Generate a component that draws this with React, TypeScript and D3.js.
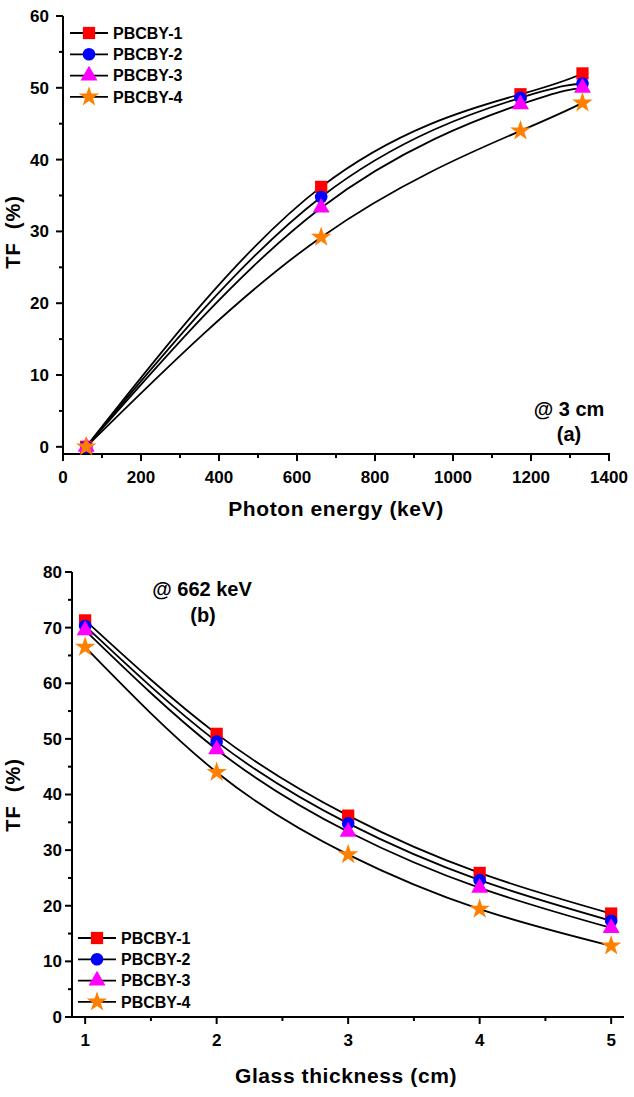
import { useEffect, useRef } from "react";
import * as d3 from "d3";

const seriesNames = ["PBCBY-1", "PBCBY-2", "PBCBY-3", "PBCBY-4"];
const seriesColors = ["#ff0000", "#0000ff", "#ff00ff", "#ff8000"];

// (a) TF vs photon energy, 3 cm glass
const photonEnergy = [59.5, 662, 1173, 1332];
const tfEnergy1 = [0, 36.2, 49.1, 52.0];
const tfEnergy2 = [0, 34.8, 48.6, 50.6];
const tfEnergy3 = [0, 33.3, 47.7, 50.0];
const tfEnergy4 = [0, 29.2, 44.0, 47.9];

// (b) TF vs glass thickness, 662 keV
const thickness = [1, 2, 3, 4, 5];
const tfThick1 = [71.3, 50.9, 36.2, 25.9, 18.6];
const tfThick2 = [70.3, 49.5, 34.8, 24.6, 17.3];
const tfThick3 = [69.5, 48.1, 33.3, 23.2, 16.0];
const tfThick4 = [66.5, 44.0, 29.2, 19.4, 12.8];

const energyTicks = [0, 200, 400, 600, 800, 1000, 1200, 1400];
const energyMinor = [100, 300, 500, 700, 900, 1100, 1300];
const tfTicksA = [0, 10, 20, 30, 40, 50, 60];
const tfMinorA = [5, 15, 25, 35, 45, 55];
const thickTicks = [1, 2, 3, 4, 5];
const thickMinor = [1.5, 2.5, 3.5, 4.5];
const tfTicksB = [0, 10, 20, 30, 40, 50, 60, 70, 80];
const tfMinorB = [5, 15, 25, 35, 45, 55, 65, 75];

const symbols = [d3.symbolSquare, d3.symbolCircle, d3.symbolTriangle, d3.symbolStar];
const symbolSizes = [150, 125, 125, 130];
const FONT = "'Liberation Sans', Arial, sans-serif";

type Sel = d3.Selection<SVGGElement, unknown, null, undefined>;

function drawPanel(
  g: Sel,
  o: {
    xs: number[];
    ys: number[][];
    x: d3.ScaleLinear<number, number>;
    y: d3.ScaleLinear<number, number>;
    xTicks: number[];
    xMinor: number[];
    yTicks: number[];
    yMinor: number[];
    yLabelGap: number;
    xTitle: string;
    xTitlePos: [number, number];
    yTitlePos: [number, number];
    legendX: number;
    legendY: number;
    notes: { text: string; x: number; y: number }[];
  }
) {
  const { x, y } = o;
  const [x0, x1] = x.range();
  const [yb] = y.range();

  // axes
  const axis = g.append("g").attr("stroke", "#000").attr("stroke-width", 2).attr("fill", "none");
  axis.append("line").attr("x1", x0).attr("x2", x1 + 1).attr("y1", yb).attr("y2", yb);
  axis.append("line").attr("x1", x0).attr("x2", x0).attr("y1", yb + 1).attr("y2", y(o.yTicks[o.yTicks.length - 1]));
  o.xTicks.forEach(t => axis.append("line").attr("x1", x(t)).attr("x2", x(t)).attr("y1", yb).attr("y2", yb + 7));
  o.xMinor.forEach(t => axis.append("line").attr("x1", x(t)).attr("x2", x(t)).attr("y1", yb).attr("y2", yb + 4));
  o.yTicks.forEach(t => axis.append("line").attr("x1", x0 - 7).attr("x2", x0).attr("y1", y(t)).attr("y2", y(t)));
  o.yMinor.forEach(t => axis.append("line").attr("x1", x0 - 4).attr("x2", x0).attr("y1", y(t)).attr("y2", y(t)));

  const txt = g.append("g").attr("font-family", FONT).attr("font-weight", "bold").attr("fill", "#000");
  o.xTicks.forEach(t =>
    txt.append("text").attr("x", x(t)).attr("y", yb + 29).attr("text-anchor", "middle").attr("font-size", 17).text(t)
  );
  o.yTicks.forEach(t =>
    txt.append("text").attr("x", x0 - o.yLabelGap).attr("y", y(t)).attr("dy", "0.35em").attr("text-anchor", "end").attr("font-size", 17).text(t)
  );
  txt.append("text")
    .attr("x", o.xTitlePos[0]).attr("y", o.xTitlePos[1])
    .attr("text-anchor", "middle").attr("font-size", 21)
    .attr("letter-spacing", 0.6)
    .text(o.xTitle);
  txt.append("text")
    .attr("transform", `translate(${o.yTitlePos[0]},${o.yTitlePos[1]}) rotate(-90)`)
    .attr("text-anchor", "middle").attr("font-size", 20)
    .attr("letter-spacing", 1)
    .attr("xml:space", "preserve")
    .text("TF  (%)");
  o.notes.forEach(n =>
    txt.append("text").attr("x", n.x).attr("y", n.y).attr("text-anchor", "middle").attr("font-size", 20).text(n.text)
  );

  // curves
  const line = d3.line<number>()
    .x((_, i) => x(o.xs[i]))
    .y(d => y(d))
    .curve(d3.curveNatural);
  o.ys.forEach(s =>
    g.append("path").datum(s).attr("fill", "none").attr("stroke", "#000").attr("stroke-width", 1.8).attr("d", line)
  );

  // markers
  o.ys.forEach((s, k) => {
    const sym = d3.symbol().type(symbols[k]).size(symbolSizes[k]);
    s.forEach((v, i) =>
      g.append("path")
        .attr("transform", `translate(${x(o.xs[i])},${y(v)})`)
        .attr("fill", seriesColors[k])
        .attr("d", sym()!)
    );
  });

  // legend
  const lg = g.append("g").attr("transform", `translate(${o.legendX},${o.legendY})`);
  seriesNames.forEach((name, k) => {
    const ry = k * 21.3;
    lg.append("line").attr("x1", 0).attr("x2", 38).attr("y1", ry).attr("y2", ry).attr("stroke", "#000").attr("stroke-width", 1.8);
    lg.append("path")
      .attr("transform", `translate(19,${ry})`)
      .attr("fill", seriesColors[k])
      .attr("d", d3.symbol().type(symbols[k]).size(symbolSizes[k])()!);
    lg.append("text")
      .attr("x", 43).attr("y", ry).attr("dy", "0.35em")
      .attr("font-family", FONT).attr("font-weight", "bold").attr("font-size", 16)
      .text(name);
  });
}

export default function App() {
  const svgRef = useRef<SVGSVGElement>(null);

  useEffect(() => {
    if (!svgRef.current) return;
    const svg = d3.select(svgRef.current);
    svg.selectAll("*").remove();

    // Panel (a)
    const xA = d3.scaleLinear().domain([0, 1400]).range([63, 609]);
    const yA = d3.scaleLinear().domain([-1, 60]).range([454, 16]);
    drawPanel(svg.append("g"), {
      xs: photonEnergy,
      ys: [tfEnergy1, tfEnergy2, tfEnergy3, tfEnergy4],
      x: xA,
      y: yA,
      xTicks: energyTicks,
      xMinor: energyMinor,
      yTicks: tfTicksA,
      yMinor: tfMinorA,
      yLabelGap: 14,
      xTitle: "Photon energy (keV)",
      xTitlePos: [336, 516],
      yTitlePos: [20, 232],
      legendX: 70,
      legendY: 33,
      notes: [
        { text: "@ 3 cm", x: 569, y: 416 },
        { text: "(a)", x: 569, y: 441 }
      ]
    });

    // Panel (b)
    const xB = d3.scaleLinear().domain([0.9, 5.09]).range([72, 623]);
    const yB = d3.scaleLinear().domain([0, 80]).range([1017, 572]);
    drawPanel(svg.append("g"), {
      xs: thickness,
      ys: [tfThick1, tfThick2, tfThick3, tfThick4],
      x: xB,
      y: yB,
      xTicks: thickTicks,
      xMinor: thickMinor,
      yTicks: tfTicksB,
      yMinor: tfMinorB,
      yLabelGap: 10,
      xTitle: "Glass thickness (cm)",
      xTitlePos: [346, 1083],
      yTitlePos: [20, 795],
      legendX: 78,
      legendY: 938,
      notes: [
        { text: "@ 662 keV", x: 202, y: 596 },
        { text: "(b)", x: 203, y: 622 }
      ]
    });
  }, []);

  return (
    <div style={{ position: "absolute", left: 0, top: 0 }}>
      <svg ref={svgRef} width={634} height={1097} style={{ display: "block", background: "#fff" }} />
    </div>
  );
}
